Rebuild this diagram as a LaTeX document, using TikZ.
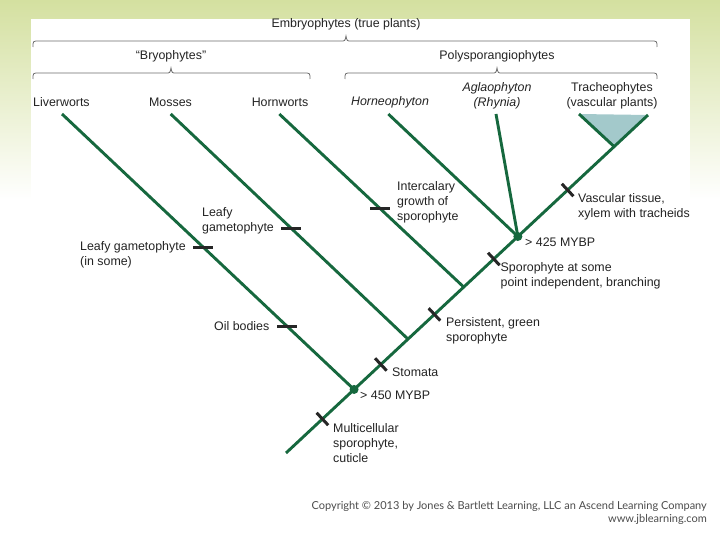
\documentclass[tikz,border=0pt]{standalone}
\usepackage{fontspec}
\setmainfont{Liberation Sans}
\newfontfamily\copyfont{Lato}
\usetikzlibrary{calc}
\definecolor{branch}{RGB}{22,104,62}
\definecolor{bgtop}{RGB}{212,224,160}
\definecolor{tri}{RGB}{163,201,203}
\definecolor{txt}{RGB}{35,35,35}
\definecolor{bracec}{RGB}{110,110,110}
\begin{document}
\begin{tikzpicture}[x=1pt,y=-1pt,
 branchline/.style={draw=branch,line width=2.9pt},
 lbl/.style={inner sep=0pt,font=\fontsize{12.4}{15}\selectfont,text=txt,align=left,anchor=west},
 toplbl/.style={inner sep=0pt,font=\fontsize{12.4}{15}\selectfont,text=txt,align=center},
 htick/.style={fill=black!85,minimum width=20pt,minimum height=3pt,inner sep=0pt},
 dtick/.style={sloped,fill=black!85,minimum width=3pt,minimum height=17pt,inner sep=0pt},
 dot/.style={circle,fill=branch,minimum size=9pt,inner sep=0pt},
 bracel/.style={draw=bracec,line width=0.8pt}]
\useasboundingbox (0,0) rectangle (720,540);
% background
\fill[white] (0,0) rectangle (720,540);
\shade[top color=bgtop,bottom color=white] (0,0) rectangle (720,200);
\fill[white] (31,19) rectangle (690,540);
% braces
\draw[bracel] (33,47) .. controls (33,41) .. (39,41) -- (341,41) .. controls (345,41) .. (346,36) .. controls (347,41) .. (351,41) -- (651,41) .. controls (657,41) .. (657,47);
\draw[bracel] (33,79) .. controls (33,73) .. (39,73) -- (166,73) .. controls (170,73) .. (171,68) .. controls (172,73) .. (176,73) -- (304,73) .. controls (310,73) .. (310,79);
\draw[bracel] (345,79) .. controls (345,73) .. (351,73) -- (492,73) .. controls (496,73) .. (497,68) .. controls (498,73) .. (502,73) -- (651,73) .. controls (657,73) .. (657,79);
% group labels
\node[toplbl] (emb) at (346,24) {Embryophytes (true plants)};
\node[toplbl] (bry) at (171,56) {“Bryophytes”};
\node[toplbl] (poly) at (497,56) {Polysporangiophytes};
% taxa labels
\node[lbl] (livl) at (33,102) {Liverworts};
\node[toplbl] (mosl) at (170.5,102) {Mosses};
\node[toplbl] (horl) at (280,102) {Hornworts};
\node[toplbl] (hnel) at (390,102) {\itshape Horneophyton};
\node[toplbl] (agll) at (497,95.5) {\itshape Aglaophyton\\\itshape (Rhynia)};
\node[toplbl] (trll) at (612,95.5) {Tracheophytes\\(vascular plants)};
% tree coordinates
\coordinate (root) at (286,453);
\coordinate (top) at (648,115);
\coordinate (j1) at ($(root)!0.188!(top)$);
\coordinate (j2) at ($(root)!0.337!(top)$);
\coordinate (j3) at ($(root)!0.491!(top)$);
\coordinate (j4) at ($(root)!0.6405!(top)$);
\coordinate (j5) at ($(root)!0.9065!(top)$);
\coordinate (liv) at (62,114);
\coordinate (mos) at (170.7,114);
\coordinate (hor) at (279.3,114);
\coordinate (hne) at (388.3,114);
\coordinate (agl) at (496,114);
\coordinate (trl) at (579,114);
% tracheophyte triangle
\fill[tri] (trl) -- (j5) -- (top) -- cycle;
% branches
\draw[branchline] (root) -- (top);
\draw[branchline] (liv) -- (j1);
\draw[branchline] (mos) -- (j2);
\draw[branchline] (hor) -- (j3);
\draw[branchline] (hne) -- (j4);
\draw[branchline] (agl) -- (j4);
\draw[branchline] (trl) -- (j5);
% dots
\node[dot] (d1) at (j1) {};
\node[dot] (d2) at (j4) {};
% ticks
\path (liv) -- (j1) node[htick,pos=0.484] (t1) {} node[htick,pos=0.771] (t2) {};
\path (mos) -- (j2) node[htick,pos=0.509] (t3) {};
\path (hor) -- (j3) node[htick,pos=0.545] (t4) {};
\path (root) -- (top)
  node[dtick,pos=0.1006] (t5) {}
  node[dtick,pos=0.262] (t6) {}
  node[dtick,pos=0.41] (t7) {}
  node[dtick,pos=0.574] (t8) {}
  node[dtick,pos=0.778] (t9) {};
% character labels
\node[lbl] (lg1) at (80,254.5) {Leafy gametophyte\\(in some)};
\node[lbl] (lg2) at (202,220.5) {Leafy\\gametophyte};
\node[lbl] (oil) at (214,326) {Oil bodies};
\node[lbl] (inter) at (397,202) {Intercalary\\growth of\\sporophyte};
\node[lbl] (m425) at (525,242) {> 425 MYBP};
\node[lbl] (vasc) at (578,206.5) {Vascular tissue,\\xylem with tracheids};
\node[lbl] (spor) at (500.5,275.5) {Sporophyte at some\\point independent, branching};
\node[lbl] (pers) at (446,330.5) {Persistent, green\\sporophyte};
\node[lbl] (stom) at (392,372) {Stomata};
\node[lbl] (m450) at (360,395) {> 450 MYBP};
\node[lbl] (multi) at (333,443) {Multicellular\\sporophyte,\\cuticle};
% copyright
\node[inner sep=0pt,anchor=east,font=\copyfont\fontsize{11}{13.5}\selectfont,text=black!70,align=right] (copy) at (707,513) {Copyright © 2013 by Jones \& Bartlett Learning, LLC an Ascend Learning Company\\www.jblearning.com};
\end{tikzpicture}
\end{document}
